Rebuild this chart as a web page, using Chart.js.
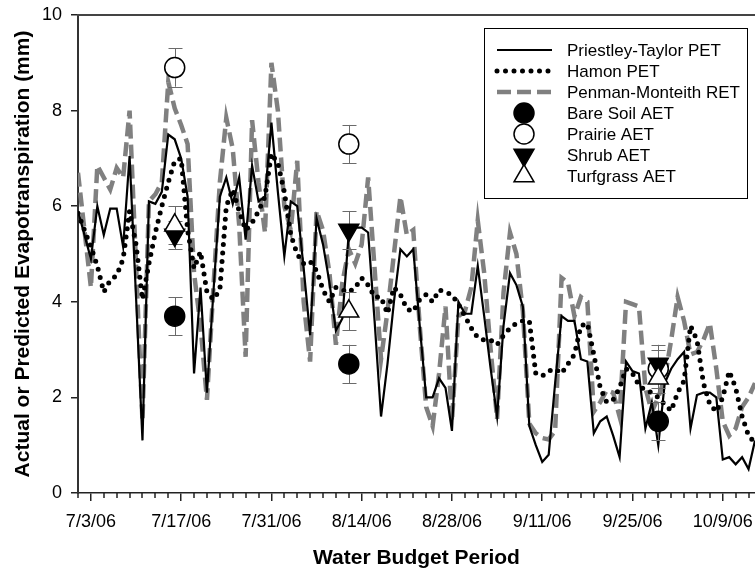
<!DOCTYPE html>
<html>
<head>
<meta charset="utf-8">
<script src="https://cdn.jsdelivr.net/npm/chart.js@4.4.0/dist/chart.umd.min.js"></script>
<style>
html, body { margin: 0; padding: 0; background: #fff; }
</style>
</head>
<body>
<canvas id="etChart" width="755" height="574"></canvas>
<script>
// x = day number counted from 1 July 2006 (7/1/06 = 1)
var firstDay = 1;

var priestleyTaylor = [
  5.9, 5.4, 4.9, 6.0, 5.4, 5.95, 5.95, 5.15, 7.05, 4.1,
  1.1, 6.1, 6.05, 6.3, 7.5, 7.4, 7.0, 6.2, 2.5, 4.3,
  2.1, 4.2, 6.2, 6.6, 6.05, 6.6, 5.3, 6.85, 6.1, 6.2,
  7.75, 6.3, 4.95, 6.1, 6.0, 4.7, 3.3, 5.75, 5.2, 4.4,
  3.4, 3.65, 5.45, 5.55, 5.55, 5.45, 3.6, 1.6, 2.7, 4.0,
  5.1, 4.95, 5.1, 3.5, 2.0, 2.0, 2.4, 2.2, 1.3, 4.0,
  3.75, 3.75, 4.75, 3.7, 2.6, 1.6, 3.5, 4.6, 4.35, 3.9,
  1.4, 1.0, 0.65, 0.8, 2.3, 3.7, 3.6, 3.6, 2.8, 2.75,
  1.25, 1.5, 1.6, 1.2, 0.75, 2.75, 2.55, 2.5, 1.35, 1.9,
  1.0, 2.3, 2.6, 2.8, 2.95, 1.35, 2.05, 2.1, 2.1, 2.0,
  0.7, 0.75, 0.6, 0.75, 0.5, 1.1
];

var hamon = [
  5.85, 5.5, 5.15, 4.75, 4.2, 4.45, 4.55, 4.9, 5.9, 5.2,
  4.05, 4.8, 5.45, 6.0, 6.5, 6.95, 7.0, 5.5, 4.7, 5.05,
  4.2, 4.05, 4.25, 6.0, 6.35, 5.9, 5.5, 5.65, 5.9, 6.2,
  7.1, 6.9, 6.3, 5.4, 5.0, 4.8, 4.85, 4.65, 4.25, 4.0,
  4.3, 4.25, 4.2, 4.3, 4.5, 4.35, 4.1, 4.1, 3.75, 4.3,
  4.15, 3.85, 3.8, 4.05, 4.15, 4.0, 4.25, 4.2, 4.15, 3.95,
  3.7, 3.45, 3.25, 3.2, 3.2, 3.1, 3.3, 3.45, 3.55, 3.6,
  3.6, 2.5, 2.45, 2.55, 2.6, 2.5, 2.7, 2.9, 3.5, 3.55,
  2.9, 2.2, 1.9, 1.95, 2.2, 2.6, 2.5, 2.25, 2.15, 2.1,
  2.0, 1.85, 1.72, 2.1, 2.35, 3.5, 3.2, 2.3, 1.85, 1.7,
  2.0, 2.55, 2.2, 1.6, 1.2, 1.05
];

var penmanMonteith = [
  6.7, 5.5, 4.3, 6.85, 6.6, 6.35, 6.8, 6.6, 8.0, 4.8,
  1.5, 6.1, 6.25, 6.5, 8.6, 8.05, 7.7, 7.3, 4.6, 3.5,
  1.95, 4.3, 6.5, 7.85, 7.2, 5.6, 2.85, 7.8, 6.5, 5.45,
  9.0, 8.0, 6.0, 5.5, 6.95, 4.0, 2.75, 5.9, 5.5, 4.6,
  3.1, 4.4, 5.1, 4.8, 5.2, 6.6, 4.7, 2.8, 3.8, 5.0,
  6.2, 5.4, 5.5, 3.5, 1.8, 1.4, 2.5, 3.9, 1.5, 3.7,
  3.8, 4.3, 5.7, 4.6, 3.0, 1.55, 4.2, 5.45, 5.0, 3.8,
  1.45, 1.25, 1.15, 1.12, 1.3, 4.5, 4.4, 3.7, 4.1, 4.0,
  1.7, 1.9, 2.15, 2.1, 1.6, 4.0, 3.95, 3.9, 2.2, 1.7,
  2.0, 2.4, 3.2, 4.1, 3.6, 2.9, 2.95, 3.2, 3.55, 2.6,
  1.5, 1.2, 1.35, 1.8, 2.0, 2.3
];

// measured AET on three dates (7/16, 8/12, 9/30)
var aetDays = [16, 43, 91];
var bareSoil = [3.7, 2.7, 1.5];
var bareSoilErr = [0.4, 0.4, 0.4];
var prairie = [8.9, 7.3, 2.6];
var prairieErr = [0.4, 0.4, 0.4];
var shrub = [5.4, 5.5, 2.7];
var shrubErr = [0.3, 0.4, 0.4];
var turfgrass = [5.6, 3.8, 2.4];
var turfgrassErr = [0.4, 0.4, 0.3];

var majorDays = [3, 17, 31, 45, 59, 73, 87, 101];
var tickLabels = ['7/3/06', '7/17/06', '7/31/06', '8/14/06', '8/28/06', '9/11/06', '9/25/06', '10/9/06'];
var yTicks = [0, 2, 4, 6, 8, 10];

function series(vals) {
  return vals.map(function (v, i) { return { x: firstDay + i, y: v }; });
}
function markers(vals) {
  return vals.map(function (v, i) { return { x: aetDays[i], y: v }; });
}

var FONT = "'Liberation Sans', Arial, Helvetica, sans-serif";
Chart.defaults.font.family = FONT;
Chart.defaults.color = '#000';

// small tick marks every 2 days, the top frame line, error bars and the legend
var extras = {
  id: 'extras',
  afterDatasetDraw: function (chart, args) {
    if (args.index !== 1) return; // right after the Hamon line, below the symbols
    var ctx = chart.ctx, xs = chart.scales.x, ys = chart.scales.y;
    ctx.save();
    ctx.strokeStyle = '#6a6a6a';
    ctx.lineWidth = 1;
    chart.data.datasets.forEach(function (ds) {
      if (!ds.errors) return;
      ds.data.forEach(function (p, i) {
        var px = Math.round(xs.getPixelForValue(p.x)) + 0.5;
        var t = ys.getPixelForValue(p.y + ds.errors[i]);
        var b = ys.getPixelForValue(p.y - ds.errors[i]);
        ctx.beginPath();
        ctx.moveTo(px, t); ctx.lineTo(px, b);
        ctx.moveTo(px - 7, Math.round(t) + 0.5); ctx.lineTo(px + 7, Math.round(t) + 0.5);
        ctx.moveTo(px - 7, Math.round(b) + 0.5); ctx.lineTo(px + 7, Math.round(b) + 0.5);
        ctx.stroke();
      });
    });
    ctx.restore();
  },
  afterDraw: function (chart) {
    var ctx = chart.ctx, xs = chart.scales.x, a = chart.chartArea;
    ctx.save();
    // minor ticks
    ctx.strokeStyle = '#222';
    ctx.lineWidth = 1.5;
    ctx.beginPath();
    for (var d = firstDay; d <= xs.max; d += 2) {
      if (majorDays.indexOf(d) >= 0) continue;
      var px = Math.round(xs.getPixelForValue(d));
      ctx.moveTo(px, a.bottom); ctx.lineTo(px, a.bottom + 5);
    }
    ctx.stroke();
    // top frame
    ctx.strokeStyle = '#444';
    ctx.lineWidth = 2;
    ctx.beginPath();
    ctx.moveTo(a.left - 1, a.top); ctx.lineTo(a.right, a.top);
    ctx.stroke();

    // legend
    var bx = 484.5, by = 28.5, bw = 263, bh = 170;
    ctx.fillStyle = '#fff';
    ctx.fillRect(bx, by, bw, bh);
    ctx.strokeStyle = '#000';
    ctx.lineWidth = 1;
    ctx.strokeRect(bx, by, bw, bh);
    var rowY = [50, 71, 92, 113, 134, 155, 176];
    var order = [2, 1, 0, 6, 5, 4, 3];
    ctx.font = '17px ' + FONT;
    ctx.textBaseline = 'middle';
    order.forEach(function (di, r) {
      var ds = chart.data.datasets[di], y = rowY[r];
      if (ds.showLine === false) {
        drawSymbol(ctx, ds, 524, y);
      } else {
        ctx.save();
        ctx.strokeStyle = ds.borderColor;
        ctx.lineWidth = ds.borderWidth;
        ctx.lineCap = ds.borderCapStyle || 'butt';
        ctx.setLineDash(ds.borderDash || []);
        ctx.beginPath();
        ctx.moveTo(497, y); ctx.lineTo(552, y);
        ctx.stroke();
        ctx.restore();
      }
      ctx.fillStyle = '#000';
      ctx.fillText(ds.label, 567, y + 1);
    });
    ctx.restore();
  }
};

function drawSymbol(ctx, ds, x, y) {
  var r = ds.pointRadius;
  ctx.save();
  ctx.fillStyle = ds.pointBackgroundColor;
  ctx.strokeStyle = ds.pointBorderColor;
  ctx.lineWidth = ds.pointBorderWidth;
  ctx.beginPath();
  if (ds.pointStyle === 'circle') {
    ctx.arc(x, y, r, 0, Math.PI * 2);
  } else {
    var rot = (ds.pointRotation || 0) * Math.PI / 180;
    for (var k = 0; k < 3; k++) {
      var ang = rot + k * 2 * Math.PI / 3;
      var px = x + Math.sin(ang) * r, py = y - Math.cos(ang) * r;
      if (k === 0) ctx.moveTo(px, py); else ctx.lineTo(px, py);
    }
    ctx.closePath();
  }
  ctx.fill();
  ctx.stroke();
  ctx.restore();
}

function symbolSet(label, vals, errs, style, fill, rot, ord) {
  return {
    label: label,
    data: markers(vals),
    errors: errs,
    showLine: false,
    pointStyle: style,
    pointRotation: rot,
    pointRadius: style === 'circle' ? 10 : 11.5,
    pointBackgroundColor: fill,
    pointBorderColor: '#000',
    pointBorderWidth: 1.5,
    order: ord
  };
}

const ctx = document.getElementById('etChart').getContext('2d');
const etChart = new Chart(ctx, {
  type: 'line',
  data: {
    datasets: [
      {
        label: 'Penman-Monteith RET',
        data: series(penmanMonteith),
        borderColor: 'rgb(128,128,128)',
        borderWidth: 4.5,
        borderDash: [14, 6],
        pointRadius: 0,
        tension: 0,
        order: 6
      },
      {
        label: 'Hamon PET',
        data: series(hamon),
        borderColor: '#000',
        borderWidth: 5,
        borderDash: [0, 8.5],
        borderCapStyle: 'round',
        pointRadius: 0,
        tension: 0,
        order: 4
      },
      {
        label: 'Priestley-Taylor PET',
        data: series(priestleyTaylor),
        borderColor: '#000',
        borderWidth: 2.2,
        pointRadius: 0,
        tension: 0,
        order: 5
      },
      symbolSet('Turfgrass AET', turfgrass, turfgrassErr, 'triangle', '#fff', 0, 0),
      symbolSet('Shrub AET', shrub, shrubErr, 'triangle', '#000', 180, 1),
      symbolSet('Prairie AET', prairie, prairieErr, 'circle', '#fff', 0, 2),
      symbolSet('Bare Soil AET', bareSoil, bareSoilErr, 'circle', '#000', 0, 3)
    ]
  },
  options: {
    responsive: false,
    animation: false,
    layout: { autoPadding: false, padding: { top: 15, right: 0, left: 0, bottom: 0 } },
    plugins: {
      legend: { display: false },
      tooltip: { enabled: false }
    },
    scales: {
      x: {
        type: 'linear',
        min: 1,
        max: 106,
        afterBuildTicks: function (s) { s.ticks = majorDays.map(function (v) { return { value: v }; }); },
        afterFit: function (s) { s.height = 81; s.paddingLeft = 0; s.paddingRight = 0; },
        ticks: {
          autoSkip: false,
          maxRotation: 0,
          padding: 10,
          font: { size: 18 },
          callback: function (v, i) { return tickLabels[i]; }
        },
        grid: { drawOnChartArea: false, tickLength: 8, color: '#222', lineWidth: 1.5 },
        border: { color: '#222', width: 1.5 },
        title: {
          display: true,
          text: 'Water Budget Period',
          font: { size: 21, weight: 'bold' },
          padding: { top: 0, bottom: 3 }
        }
      },
      y: {
        min: 0,
        max: 10,
        afterBuildTicks: function (s) { s.ticks = yTicks.map(function (v) { return { value: v }; }); },
        afterFit: function (s) { s.width = 78; s.paddingTop = 0; s.paddingBottom = 0; },
        ticks: { padding: 9, font: { size: 18 } },
        grid: { drawOnChartArea: false, tickLength: 7, color: '#222', lineWidth: 1.5 },
        border: { color: '#333', width: 2 },
        title: {
          display: true,
          text: 'Actual or Predicted Evapotranspiration (mm)',
          font: { size: 21, weight: 'bold' },
          padding: { top: 11, bottom: 0 }
        }
      }
    }
  },
  plugins: [extras]
});
</script>
</body>
</html>
